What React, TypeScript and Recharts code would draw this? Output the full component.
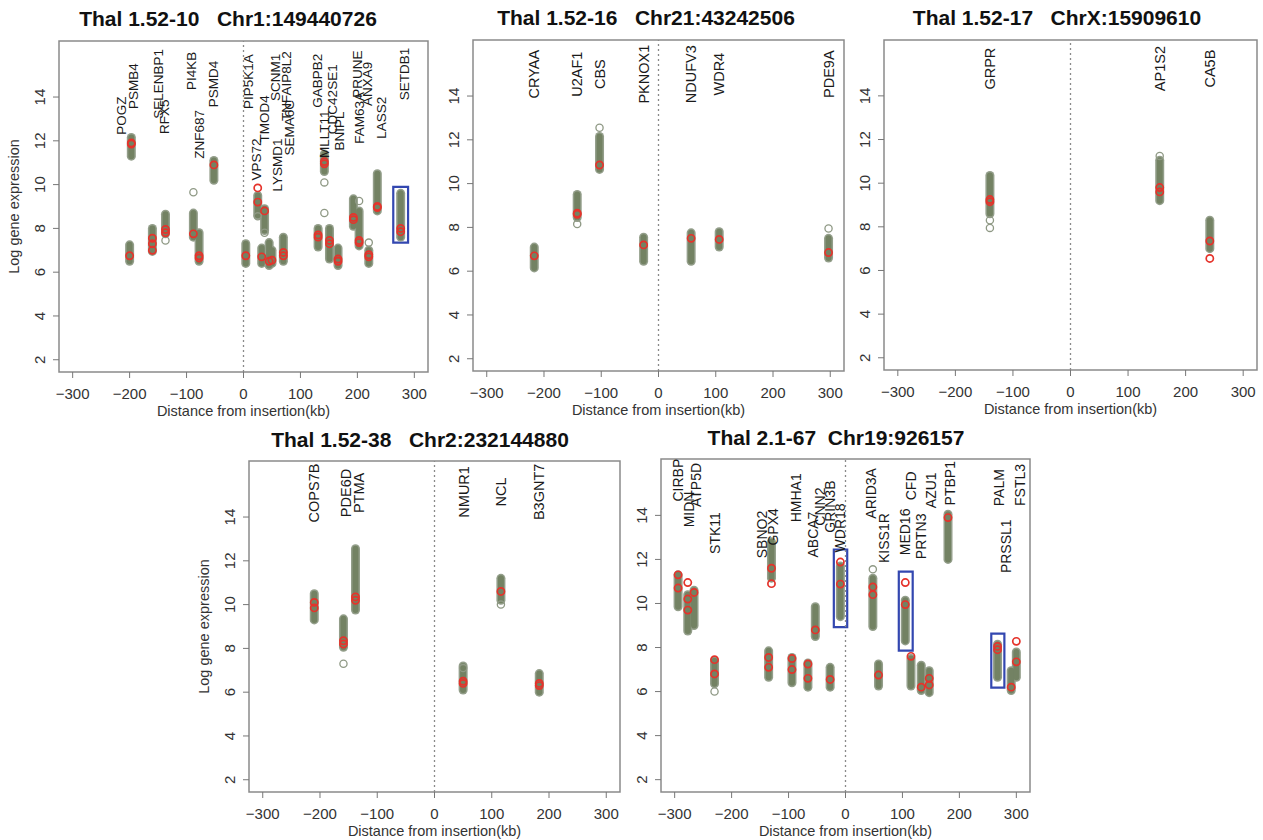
import React from 'react';
import { ScatterChart, Scatter, XAxis, YAxis, ReferenceArea, ReferenceLine } from 'recharts';

const FONT = '"Liberation Sans", Arial, Helvetica, sans-serif';

const X_TICKS = [-300, -200, -100, 0, 100, 200, 300];
const Y_TICKS = [2, 4, 6, 8, 10, 12, 14];
const X_DOMAIN: [number, number] = [-324, 324];
const Y_DOMAIN: [number, number] = [1.44, 16.56];

// Thal 1.52-10  Chr1:149440726
const P1_GENES = ['POGZ', 'PSMB4', 'SELENBP1', 'RFX5', 'PI4KB', 'ZNF687', 'PSMD4', 'PIP5K1A', 'VPS72', 'TMOD4', 'LYSMD1', 'SCNM1', 'TNFAIP8L2', 'SEMA6C', 'GABPB2', 'MLLT11', 'CDC42SE1', 'BNIPL', 'PRUNE', 'FAM63A', 'ANXA9', 'LASS2', 'SETDB1'];
const P1_POS = [-200, -197, -160, -137, -88, -78, -52, 4, 25, 37, 32, 45, 50, 70, 131, 142, 151, 166, 193, 203, 220, 235, 276];
const P1_LOW = [6.5, 11.3, 6.95, 7.75, 7.6, 6.5, 10.2, 6.4, 8.6, 7.9, 6.4, 6.3, 6.4, 6.5, 7.15, 10.6, 6.6, 6.3, 8.1, 7.2, 6.4, 8.8, 7.6];
const P1_HIGH = [7.25, 12.15, 8.0, 8.65, 8.7, 7.8, 11.1, 7.3, 9.5, 8.9, 7.1, 7.35, 7.0, 7.6, 8.0, 11.4, 8.0, 7.1, 9.35, 8.8, 7.0, 10.5, 9.6];
const P1_RED = [[6.75], [11.9, 11.85], [7.55, 7.3, 7.0], [7.95, 7.8], [7.75], [6.75, 6.65], [10.9], [6.75], [9.85, 9.2], [8.8], [6.7], [6.5], [6.55], [6.75, 6.9], [7.7, 7.6], [11.05, 10.95], [7.45, 7.3], [6.5, 6.6], [8.4, 8.5], [7.35, 7.45], [6.8, 6.7], [9.0, 8.95], [8.0, 7.85]];
const P1_OUT = [[], [], [], [7.45], [9.65], [], [], [], [8.55], [7.8], [], [], [], [], [], [10.1, 8.7], [], [], [], [9.25], [7.35], [], []];
const P1_LABEL_X = [-214, -193, -150, -139, -92, -78, -52, 9, 23, 37, 59, 57, 75, 80, 130, 143, 157, 169, 200, 203, 217, 243, 282];
const P1_LABEL_Y = [13.15, 14.5, 14.6, 13.1, 15.2, 12.3, 14.6, 14.7, 11.15, 13.0, 10.9, 14.9, 14.5, 12.6, 14.75, 12.3, 13.9, 12.45, 15.05, 13.05, 14.6, 13.05, 15.05];
const P1_BOXES = [[263, 289, 7.35, 9.9]];

// Thal 1.52-16  Chr21:43242506
const P2_GENES = ['CRYAA', 'U2AF1', 'CBS', 'PKNOX1', 'NDUFV3', 'WDR4', 'PDE9A'];
const P2_POS = [-217, -142, -103, -26, 57, 106, 297];
const P2_LOW = [6.15, 8.45, 10.65, 6.45, 6.45, 7.1, 6.6];
const P2_HIGH = [7.1, 9.5, 12.15, 7.55, 7.75, 7.8, 7.5];
const P2_RED = [[6.7], [8.65, 8.6], [10.85], [7.2], [7.5], [7.45], [6.85]];
const P2_OUT = [[], [8.15], [12.55], [], [], [], [7.95]];
const P2_LABEL_Y = [15, 15, 15, 15, 15, 15, 15];

// Thal 1.52-17  ChrX:15909610
const P3_GENES = ['GRPR', 'AP1S2', 'CA5B'];
const P3_POS = [-140, 155, 242];
const P3_LOW = [8.6, 9.2, 7.0];
const P3_HIGH = [10.35, 11.05, 8.3];
const P3_RED = [[9.25, 9.15], [9.8, 9.6], [7.35, 6.55]];
const P3_OUT = [[8.3, 7.95], [11.25], []];
const P3_LABEL_Y = [15.25, 15.25, 15.25];

// Thal 1.52-38  Chr2:232144880
const P4_GENES = ['COPS7B', 'PDE6D', 'PTMA', 'NMUR1', 'NCL', 'B3GNT7'];
const P4_POS = [-210, -159, -138, 50, 116, 183];
const P4_LOW = [9.3, 8.05, 9.75, 6.1, 10.2, 6.0];
const P4_HIGH = [10.5, 9.35, 12.55, 7.2, 11.2, 6.85];
const P4_RED = [[10.1, 9.85], [8.35, 8.2], [10.35, 10.2], [6.5, 6.4], [10.6], [6.4, 6.3]];
const P4_OUT = [[], [7.3], [], [7.1], [10.0], []];
const P4_LABEL_X = [-210, -154, -131, 52, 116, 183];
const P4_LABEL_Y = [15.1, 15.1, 15.1, 15.15, 15.15, 15.15];

// Thal 2.1-67  Chr19:926157
const P5_GENES = ['CIRBP', 'MIDN', 'ATP5D', 'STK11', 'SBNO2', 'GPX4', 'HMHA1', 'ABCA7', 'CNN2', 'GRIN3B', 'WDR18', 'ARID3A', 'KISS1R', 'MED16', 'CFD', 'PRTN3', 'AZU1', 'PTBP1', 'PALM', 'PRSSL1', 'FSTL3'];
const P5_POS = [-294, -277, -266, -230, -135, -130, -94, -66, -53, -27, -9, 48, 58, 105, 115, 133, 147, 180, 267, 291, 300];
const P5_LOW = [9.85, 8.75, 9.0, 6.35, 6.65, 11.15, 6.4, 6.2, 8.5, 6.2, 9.4, 8.95, 6.25, 8.3, 6.25, 6.05, 5.95, 12.0, 6.65, 6.05, 6.65];
const P5_HIGH = [11.3, 10.4, 10.6, 7.4, 7.85, 12.8, 7.55, 7.3, 9.85, 7.1, 11.7, 11.15, 7.25, 10.15, 7.5, 7.2, 6.95, 14.05, 8.15, 6.95, 7.8];
const P5_RED = [[11.3, 10.7], [10.95, 10.2, 9.7], [10.5], [7.45, 6.8], [7.55, 7.1], [11.6, 10.9], [7.5, 7.0], [7.25, 6.6], [8.8], [6.55], [11.88, 10.88], [10.75, 10.4], [6.75], [10.95, 9.95], [7.6], [6.2], [6.6, 6.3], [13.9], [8.05, 7.9], [6.2], [8.28, 7.35]];
const P5_OUT = [[], [], [], [6.0], [], [], [], [], [], [], [], [11.55], [], [], [], [], [], [], [], [], []];
const P5_LABEL_X = [-294, -275, -263, -229, -146, -128, -87, -57, -44, -28, -10, 45, 67, 105, 115, 133, 150, 183, 270, 282, 307];
const P5_LABEL_Y = [15.6, 14.27, 15.38, 13.2, 13.13, 13.48, 14.8, 13.13, 14.4, 14.4, 13.43, 15.0, 12.97, 13.25, 15.34, 13.05, 15.14, 15.46, 15.26, 12.6, 15.38];
const P5_BOXES = [[-20.5, 3, 8.93, 12.45], [93.6, 118, 7.86, 11.45], [256, 279, 6.18, 8.63]];

interface PanelDef {
  title: string;
  genes: string[];
  pos: number[];
  low: number[];
  high: number[];
  red: number[][];
  out: number[][];
  labelX: number[];
  labelY: number[];
  boxes: number[][];
  left: number;
  top: number;
  w: number;
  h: number;
  titleX: number;
  titleTop: number;
  labelSize: number;
  ylabX?: number;
}

const PANELS: PanelDef[] = [
  { title: 'Thal 1.52-10   Chr1:149440726', genes: P1_GENES, pos: P1_POS, low: P1_LOW, high: P1_HIGH, red: P1_RED, out: P1_OUT, labelX: P1_LABEL_X, labelY: P1_LABEL_Y, boxes: P1_BOXES, left: 59, top: 41, w: 369, h: 331, titleX: 228, titleTop: 8, labelSize: 13.5, ylabX: 14 },
  { title: 'Thal 1.52-16   Chr21:43242506', genes: P2_GENES, pos: P2_POS, low: P2_LOW, high: P2_HIGH, red: P2_RED, out: P2_OUT, labelX: P2_POS, labelY: P2_LABEL_Y, boxes: [], left: 473, top: 40, w: 371, h: 331, titleX: 646, titleTop: 7, labelSize: 14.5 },
  { title: 'Thal 1.52-17   ChrX:15909610', genes: P3_GENES, pos: P3_POS, low: P3_LOW, high: P3_HIGH, red: P3_RED, out: P3_OUT, labelX: P3_POS, labelY: P3_LABEL_Y, boxes: [], left: 884, top: 40, w: 373, h: 330, titleX: 1057, titleTop: 7, labelSize: 14.5 },
  { title: 'Thal 1.52-38   Chr2:232144880', genes: P4_GENES, pos: P4_POS, low: P4_LOW, high: P4_HIGH, red: P4_RED, out: P4_OUT, labelX: P4_LABEL_X, labelY: P4_LABEL_Y, boxes: [], left: 249, top: 461, w: 371, h: 331, titleX: 420, titleTop: 429, labelSize: 14.5, ylabX: 204 },
  { title: 'Thal 2.1-67  Chr19:926157', genes: P5_GENES, pos: P5_POS, low: P5_LOW, high: P5_HIGH, red: P5_RED, out: P5_OUT, labelX: P5_LABEL_X, labelY: P5_LABEL_Y, boxes: P5_BOXES, left: 661, top: 459, w: 369, h: 333, titleX: 836, titleTop: 427, labelSize: 14 },
];

const YW = 40;
const XH = 44;
const MT = 8;
const MR = 8;

const COL_RIM = '#939e8a';
const COL_BODY = '#738263';
const RED = '#e5332b';

const nothing = () => <g />;

const grayRing = (props: any) => (
  <circle cx={props.cx} cy={props.cy} r={3.6} fill="none" stroke="#8f9985" strokeWidth={1.3} />
);

const redRing = (props: any) => (
  <circle cx={props.cx} cy={props.cy} r={3.6} fill="none" stroke={RED} strokeWidth={1.7} />
);

const makeLabel = (size: number) => (props: any) => {
  const { cx, cy, payload } = props;
  return (
    <text
      x={cx}
      y={cy}
      transform={`rotate(-90 ${cx} ${cy})`}
      textAnchor="middle"
      dominantBaseline="central"
      fontSize={size}
      fontFamily={FONT}
      fill="#1a1a1a"
    >
      {payload.name}
    </text>
  );
};

const XTick = (props: any) => {
  const { x, y, payload } = props;
  const v = payload.value as number;
  const s = v < 0 ? '\u2212' + Math.abs(v) : String(v);
  return (
    <text x={x} y={y + 21.4} textAnchor="middle" fontSize={15} fontFamily={FONT} fill="#333">
      {s}
    </text>
  );
};

const YTick = (props: any) => {
  const { x, y, payload } = props;
  const X = x - 7.6;
  return (
    <text x={X} y={y} transform={`rotate(-90 ${X} ${y})`} textAnchor="middle" fontSize={15} fontFamily={FONT} fill="#333">
      {payload.value}
    </text>
  );
};

function Panel({ p }: { p: PanelDef }) {
  const cols = p.genes.map((g, i) => ({ g, x: p.pos[i], lo: p.low[i], hi: p.high[i] }));
  const reds = p.red.flatMap((vals, i) => vals.map((v) => ({ x: p.pos[i], y: v })));
  const outs = p.out.flatMap((vals, i) => vals.map((v) => ({ x: p.pos[i], y: v })));
  const labels = p.genes.map((g, i) => ({ x: p.labelX[i], y: p.labelY[i], name: g }));
  const labelShape = makeLabel(p.labelSize);
  const cx = p.left + p.w / 2;
  const cy = p.top + p.h / 2;

  return (
    <>
      <div
        style={{
          position: 'absolute',
          left: p.titleX - 220,
          top: p.titleTop,
          width: 440,
          textAlign: 'center',
          fontSize: 21,
          lineHeight: '21px',
          fontWeight: 'bold',
          whiteSpace: 'pre',
          color: '#111',
        }}
      >
        {p.title}
      </div>
      <div style={{ position: 'absolute', left: p.left - YW, top: p.top - MT }}>
        <ScatterChart
          width={YW + p.w + MR}
          height={MT + p.h + XH}
          margin={{ top: MT, right: MR, bottom: 0, left: 0 }}
        >
          <XAxis
            type="number"
            dataKey="x"
            domain={X_DOMAIN}
            ticks={X_TICKS}
            allowDataOverflow
            interval={0}
            axisLine={false}
            tickSize={6}
            tickMargin={0}
            tickLine={{ stroke: '#777' }}
            tick={XTick}
            height={XH}
          />
          <YAxis
            type="number"
            dataKey="y"
            domain={Y_DOMAIN}
            ticks={Y_TICKS}
            allowDataOverflow
            interval={0}
            axisLine={false}
            tickSize={6}
            tickMargin={0}
            tickLine={{ stroke: '#777' }}
            tick={YTick}
            width={YW}
          />
          <ReferenceArea
            x1={X_DOMAIN[0]}
            x2={X_DOMAIN[1]}
            y1={Y_DOMAIN[0]}
            y2={Y_DOMAIN[1]}
            fill="none"
            fillOpacity={0}
            stroke="#8a8a8a"
            strokeWidth={1.5}
            ifOverflow="visible"
          />
          <ReferenceLine x={0} stroke="#8a8a8a" strokeWidth={1.3} strokeDasharray="2 3" />
          {cols.map((c) => (
            <Scatter
              key={'rim-' + c.g}
              data={[{ x: c.x, y: c.lo }, { x: c.x, y: c.hi }]}
              line={{ stroke: COL_RIM, strokeWidth: 9, strokeLinecap: 'round' }}
              shape={nothing}
              isAnimationActive={false}
            />
          ))}
          {cols.map((c) => (
            <Scatter
              key={'body-' + c.g}
              data={[{ x: c.x, y: c.lo }, { x: c.x, y: c.hi }]}
              line={{ stroke: COL_BODY, strokeWidth: 6, strokeLinecap: 'round' }}
              shape={nothing}
              isAnimationActive={false}
            />
          ))}
          <Scatter data={outs} shape={grayRing} isAnimationActive={false} />
          <Scatter data={reds} shape={redRing} isAnimationActive={false} />
          {p.boxes.map((b, i) => (
            <ReferenceArea
              key={'box-' + i}
              x1={b[0]}
              x2={b[1]}
              y1={b[2]}
              y2={b[3]}
              fill="none"
              fillOpacity={0}
              stroke="#3347b0"
              strokeWidth={2.2}
              ifOverflow="visible"
            />
          ))}
          <Scatter data={labels} shape={labelShape} isAnimationActive={false} />
        </ScatterChart>
      </div>
      <div
        style={{
          position: 'absolute',
          left: cx - 150,
          top: p.top + p.h + 39 - 7.5,
          width: 300,
          textAlign: 'center',
          fontSize: 14.5,
          lineHeight: '15px',
          color: '#333',
        }}
      >
        Distance from insertion(kb)
      </div>
      {p.ylabX !== undefined && (
        <div
          style={{
            position: 'absolute',
            left: p.ylabX - 120,
            top: cy - 7.5,
            width: 240,
            textAlign: 'center',
            fontSize: 14.5,
            lineHeight: '15px',
            color: '#333',
            transform: 'rotate(-90deg)',
            transformOrigin: 'center center',
          }}
        >
          Log gene expression
        </div>
      )}
    </>
  );
}

export default function App() {
  return (
    <div
      style={{
        position: 'absolute',
        left: 0,
        top: 0,
        width: 1263,
        height: 840,
        background: '#fff',
        fontFamily: FONT,
        overflow: 'hidden',
      }}
    >
      {PANELS.map((p) => (
        <Panel key={p.title} p={p} />
      ))}
    </div>
  );
}
